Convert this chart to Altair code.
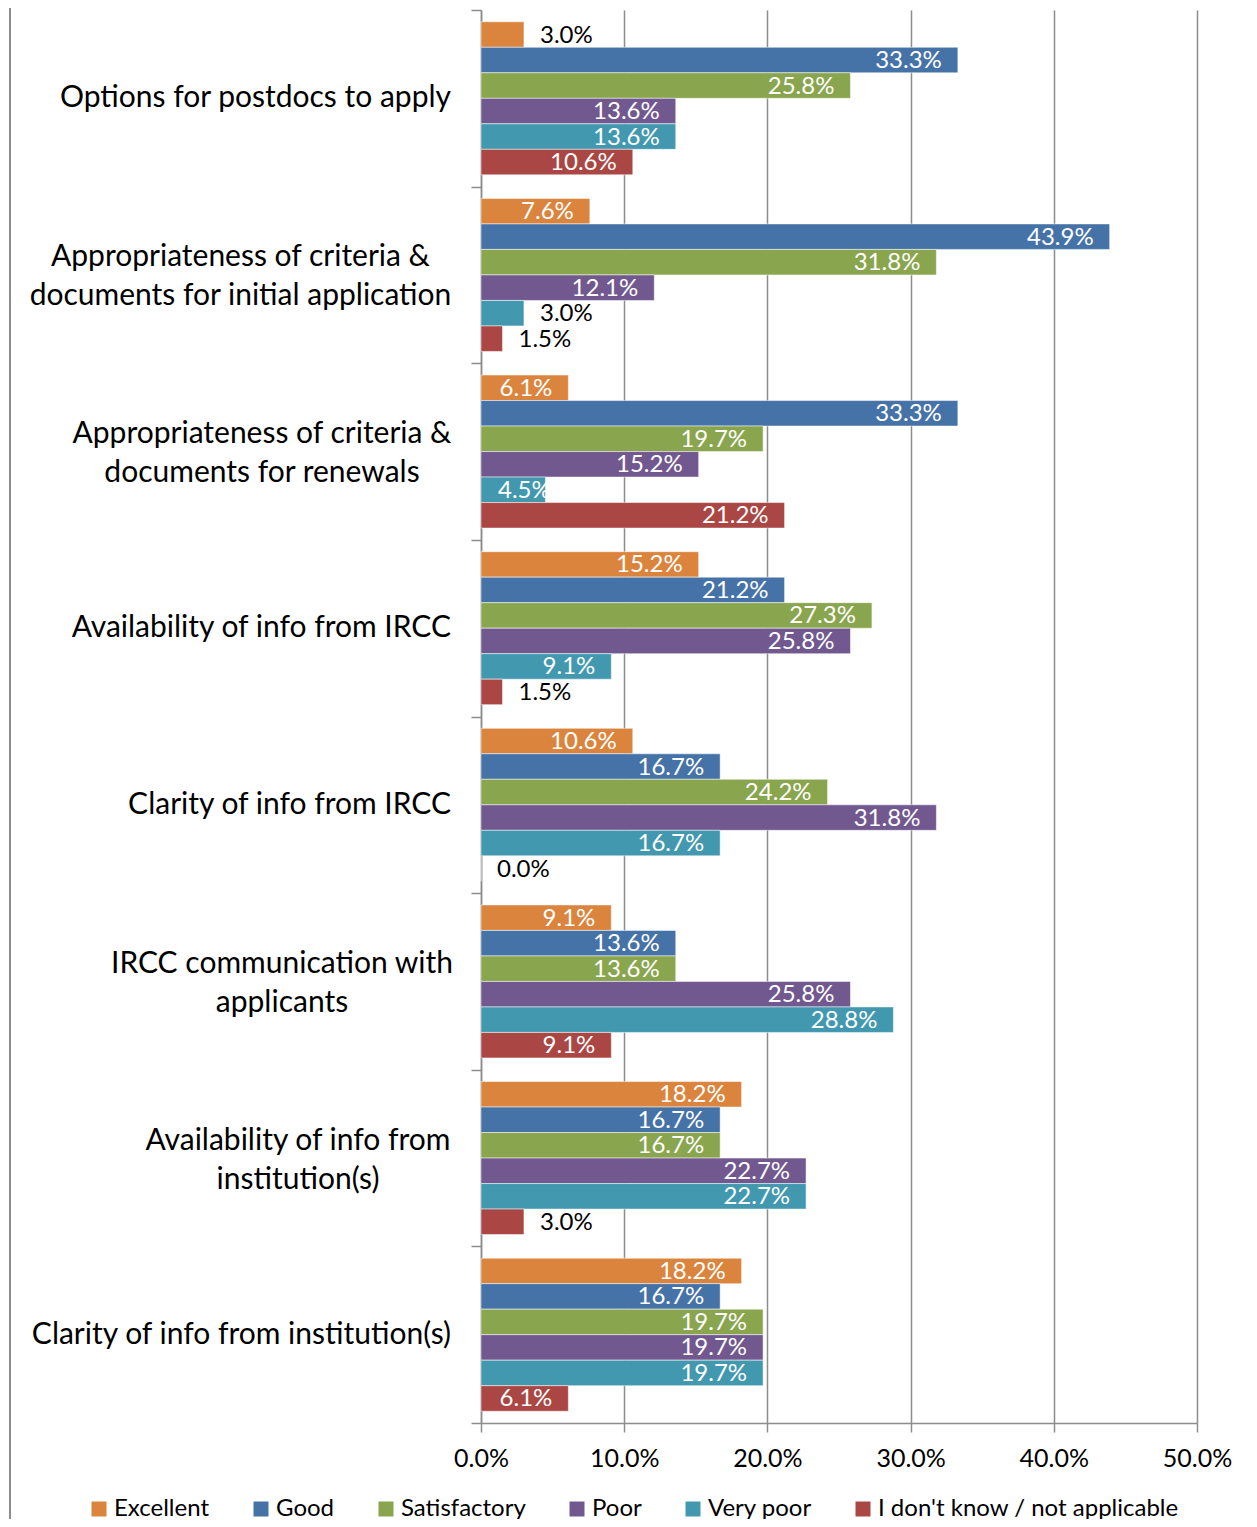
import altair as alt
import pandas as pd

categories = [
    "Options for postdocs to apply",
    "Appropriateness of criteria &|documents for initial application",
    "Appropriateness of criteria &|documents for renewals",
    "Availability of info from IRCC",
    "Clarity of info from IRCC",
    "IRCC communication with|applicants",
    "Availability of info from|institution(s)",
    "Clarity of info from institution(s)",
]
series = ["Excellent", "Good", "Satisfactory", "Poor", "Very poor",
          "I don't know / not applicable"]
excellent = [3.0, 7.6, 6.1, 15.2, 10.6, 9.1, 18.2, 18.2]
good = [33.3, 43.9, 33.3, 21.2, 16.7, 13.6, 16.7, 16.7]
satisfactory = [25.8, 31.8, 19.7, 27.3, 24.2, 13.6, 16.7, 19.7]
poor = [13.6, 12.1, 15.2, 25.8, 31.8, 25.8, 22.7, 19.7]
very_poor = [13.6, 3.0, 4.5, 9.1, 16.7, 28.8, 22.7, 19.7]
dont_know = [10.6, 1.5, 21.2, 1.5, 0.0, 9.1, 3.0, 6.1]
colors = ["#DB843D", "#4572A7", "#89A54E", "#71588F", "#4198AF", "#AA4643"]
x_ticks = [0, 10, 20, 30, 40, 50]

values_by_series = [excellent, good, satisfactory, poor, very_poor, dont_know]
rows = []
for s, vals in zip(series, values_by_series):
    for c, v in zip(categories, vals):
        rows.append({"category": c, "series": s, "value": v})
df = pd.DataFrame(rows)

GRAY = "#8c8c8c"
FONT = "Lato"

y_enc = alt.Y(
    "category:N", sort=categories,
    scale=alt.Scale(paddingInner=0, paddingOuter=0),
    axis=alt.Axis(
        title=None, labels=False,
        tickBand="extent", tickSize=10, tickColor=GRAY, tickWidth=1.5,
        domainColor=GRAY, domainWidth=1.5, grid=False,
    ),
)
yoff_enc = alt.YOffset("series:N", sort=series,
                       scale=alt.Scale(paddingInner=0, paddingOuter=0.4627))
x_enc = alt.X(
    "value:Q", scale=alt.Scale(domain=[0, 50], nice=False),
    axis=alt.Axis(
        title=None, values=x_ticks,
        labelExpr="format(datum.value, '.1f') + '%'",
        labelFont=FONT, labelFontSize=25, labelColor="black",
        labelFlush=False,
        labelPadding=14, tickSize=9, tickColor=GRAY, tickWidth=1.5,
        domainColor=GRAY, domainWidth=1.5,
        grid=True, gridColor=GRAY, gridWidth=1.5,
    ),
)

base = alt.Chart(df).transform_calculate(
    label="format(datum.value, '.1f') + '%'"
)

bars = base.mark_bar(stroke="white", strokeWidth=1, strokeOpacity=0.5).encode(
    x=x_enc, y=y_enc, yOffset=yoff_enc,
    color=alt.Color(
        "series:N", sort=series,
        scale=alt.Scale(domain=series, range=colors),
        legend=alt.Legend(
            title=None, orient="none", direction="horizontal", columns=6,
            legendX=-394, legendY=1487, padding=0,
            symbolType="square", symbolSize=225, symbolStrokeWidth=0,
            labelFont=FONT, labelFontSize=24, labelColor="black",
            labelOffset=3, columnPadding=39, labelLimit=0,
        ),
    ),
)

y_txt = alt.Y("category:N", sort=categories)
yo_txt = alt.YOffset("series:N", sort=series)

txt_out = base.transform_filter("datum.value < 4").mark_text(
    align="left", baseline="middle", dx=16, dy=1, font=FONT, fontSize=24,
    color="black",
).encode(x="value:Q", y=y_txt, yOffset=yo_txt, text="label:N")

txt_in = base.transform_filter("datum.value >= 6").mark_text(
    align="right", baseline="middle", dx=-16, dy=1, font=FONT, fontSize=24,
    color="white",
).encode(x="value:Q", y=y_txt, yOffset=yo_txt, text="label:N")

txt_mid = base.transform_filter("datum.value >= 4 && datum.value < 6").mark_text(
    align="left", baseline="middle", dy=1, font=FONT, fontSize=24,
    color="white",
).encode(x=alt.value(17), y=y_txt, yOffset=yo_txt, text="label:N")

# category labels (single-line: right aligned; two-line: lines centered)
single_cats = [c for c in categories if "|" not in c]
cat_single = alt.Chart(pd.DataFrame({"category": single_cats})).mark_text(
    align="right", baseline="middle", font=FONT, fontSize=30, color="black",
).encode(x=alt.value(-30), y=y_txt, text="category:N")

multi_center = {categories[1]: 240.5, categories[2]: 262,
                categories[5]: 282, categories[6]: 298}
cat_multi = []
for cat, cx in multi_center.items():
    cat_multi.append(
        alt.Chart(pd.DataFrame({"category": [cat]})).mark_text(
            align="center", baseline="middle", font=FONT, fontSize=30,
            color="black", lineBreak="|", lineHeight=39, dy=-17.5,
        ).encode(x=alt.value(cx - 481), y=y_txt, text="category:N")
    )

border = alt.Chart(pd.DataFrame({"a": [0]})).mark_rule(
    color=GRAY, strokeWidth=2
).encode(x=alt.value(-471), y=alt.value(-10), y2=alt.value(1509))

chart = alt.layer(bars, txt_out, txt_in, txt_mid, cat_single, *cat_multi,
                  border).properties(
    width=716, height=1413,
    autosize=alt.AutoSizeParams(type="none"),
    padding={"left": 473, "top": 2, "right": 50, "bottom": 96},
).configure_view(stroke=None)

chart.save("out.html", embed_options={"renderer": "svg", "actions": False})
